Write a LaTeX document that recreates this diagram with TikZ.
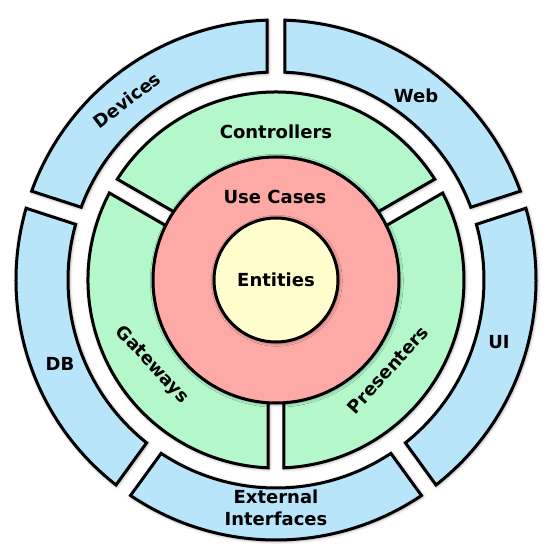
\documentclass[tikz,border=0pt]{standalone}
\usepackage{fontspec}
\setmainfont{DejaVu Sans}
\usetikzlibrary{shadows.blur}
\definecolor{ringblue}{HTML}{B9E5FB}
\definecolor{ringgreen}{HTML}{B3F7CB}
\definecolor{ringred}{HTML}{FDAAA6}
\definecolor{ringyellow}{HTML}{FFFECC}
\newcommand{\ringseg}[6]{%
  \pgfmathsetmacro\dOut{asin(#5/#4)}%
  \pgfmathsetmacro\dIn{asin(#5/#3)}%
  \pgfmathsetmacro\sOut{#1+\dOut}%
  \pgfmathsetmacro\eOut{#2-\dOut}%
  \pgfmathsetmacro\sIn{#1+\dIn}%
  \pgfmathsetmacro\eIn{#2-\dIn}%
  \draw[#6] (\sOut:#4pt) arc[start angle=\sOut, end angle=\eOut, radius=#4pt]
    -- (\eIn:#3pt) arc[start angle=\eIn, end angle=\sIn, radius=#3pt] -- cycle;
}
\begin{document}
\begin{tikzpicture}[
  shape line/.style={line width=3pt, line join=miter, draw=black,
    blur shadow={shadow xshift=0.8pt, shadow yshift=-0.8pt, shadow blur radius=3.5pt, shadow opacity=55}},
  bluefill/.style={shape line, fill=ringblue},
  greenfill/.style={shape line, fill=ringgreen},
  lbl/.style={font=\fontsize{18}{22}\selectfont\bfseries, inner sep=0pt, align=center}
]
\useasboundingbox (-276pt,-279pt) rectangle (277pt,280pt);
% outer ring: five segments of 72 degrees
\ringseg{18}{90}{208}{260}{9}{bluefill}
\ringseg{90}{162}{208}{260}{9}{bluefill}
\ringseg{162}{234}{208}{260}{9}{bluefill}
\ringseg{234}{306}{208}{260}{9}{bluefill}
\ringseg{306}{378}{208}{260}{9}{bluefill}
% green ring: three segments
\ringseg{30}{150}{122}{188}{8}{greenfill}
\ringseg{150}{270}{122}{188}{8}{greenfill}
\ringseg{270}{390}{122}{188}{8}{greenfill}
% use cases and entities
\draw[shape line, fill=ringred] (0,0) circle[radius=123pt];
\draw[shape line, fill=ringyellow] (0,0) circle[radius=62pt];
% labels
\node[lbl] (entities) at (0pt,0pt) {Entities};
\node[lbl] (usecases) at (-1pt,83pt) {Use Cases};
\node[lbl] (controllers) at (0pt,148pt) {Controllers};
\node[lbl, rotate=-47] (gateways) at (-124pt,-85pt) {Gateways};
\node[lbl, rotate=48] (presenters) at (112pt,-90pt) {Presenters};
\node[lbl] (web) at (140pt,184pt) {Web};
\node[lbl, rotate=37] (devices) at (-149pt,180pt) {Devices};
\node[lbl] (db) at (-216pt,-84pt) {DB};
\node[lbl] (ui) at (223pt,-62pt) {UI};
\node[lbl] (external) at (0pt,-228pt) {External\\Interfaces};
\end{tikzpicture}
\end{document}
